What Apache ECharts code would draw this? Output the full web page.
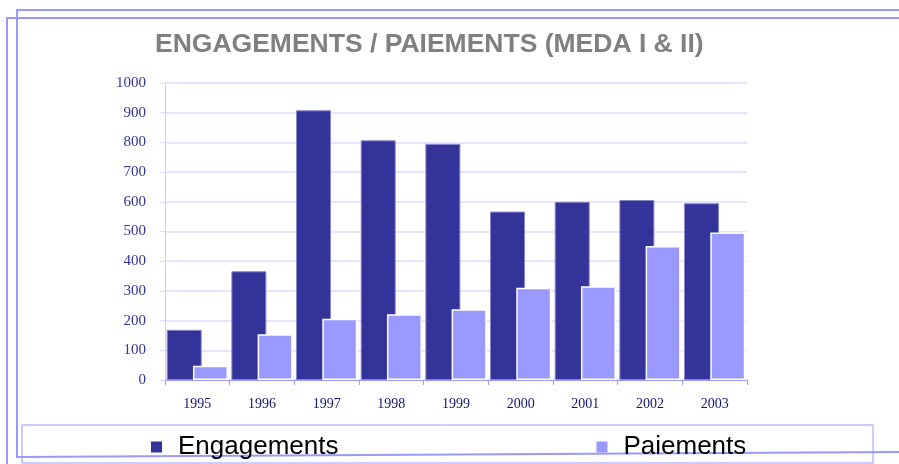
<!DOCTYPE html>
<html>
<head>
<meta charset="utf-8">
<script src="https://cdn.jsdelivr.net/npm/echarts@6/dist/echarts.min.js"></script>
<style>
  html, body { margin: 0; padding: 0; background: #fff; }
  #chart { width: 899px; height: 464px; }
</style>
</head>
<body>
<div id="chart"></div>
<script>
  // données
  const years = ['1995', '1996', '1997', '1998', '1999', '2000', '2001', '2002', '2003'];
  const engagements = [169, 366, 908, 807, 795, 567, 600, 606, 595];
  const paiements = [48, 154, 206, 221, 238, 311, 316, 451, 497];

  const frame = '#9999ff';
  let chart = echarts.init(document.getElementById('chart'));

  chart.setOption({
    animation: false,
    title: {
      text: 'ENGAGEMENTS / PAIEMENTS (MEDA I & II)',
      left: 155,
      top: 31,
      padding: 0,
      textStyle: {
        fontFamily: 'Liberation Sans',
        fontWeight: 'bold',
        fontSize: 26.5,
        color: '#808080'
      }
    },
    legend: {
      left: 151,
      top: 434,
      padding: 0,
      itemWidth: 11,
      itemHeight: 11,
      itemGap: 258,
      icon: 'rect',
      itemStyle: { borderWidth: 0 },
      textStyle: {
        fontFamily: 'Liberation Sans',
        fontSize: 26,
        color: '#000',
        padding: [0, 0, 0, 11]
      },
      data: ['Engagements', 'Paiements']
    },
    grid: {
      left: 165,
      right: 152,
      top: 83,
      bottom: 84
    },
    xAxis: {
      type: 'category',
      data: years,
      axisLine: { lineStyle: { color: frame, width: 1 } },
      axisTick: { show: true, length: 5, lineStyle: { color: frame } },
      axisLabel: {
        margin: 17,
        fontFamily: 'Liberation Serif',
        fontSize: 14,
        color: '#141478'
      }
    },
    yAxis: {
      type: 'value',
      min: 0,
      max: 1000,
      interval: 100,
      axisLine: { show: true, lineStyle: { color: '#ccccff' } },
      axisTick: { show: true, length: 5, lineStyle: { color: '#ddddff' } },
      splitLine: { lineStyle: { color: '#ddddff', width: 1.5 } },
      axisLabel: {
        margin: 19,
        fontFamily: 'Liberation Serif',
        fontSize: 15,
        color: '#333399',
        formatter: function (v) { return String(v); }
      }
    },
    series: [
      {
        name: 'Engagements',
        type: 'bar',
        data: engagements,
        barWidth: 35,
        barGap: '-25%',
        itemStyle: { color: '#333399', borderColor: '#8888cc', borderWidth: 1 }
      },
      {
        name: 'Paiements',
        type: 'bar',
        data: paiements,
        barWidth: 35,
        itemStyle: { color: '#9999ff', borderColor: '#ffffff', borderWidth: 1.5 }
      }
    ],
    graphic: [
      { type: 'polyline', shape: { points: [[899, 10], [17, 10], [17, 457], [899, 452]] }, style: { stroke: frame, lineWidth: 2, fill: null }, silent: true },
      { type: 'polyline', shape: { points: [[899, 18], [7, 18], [7, 464]] }, style: { stroke: frame, lineWidth: 2, fill: null }, silent: true },
      { type: 'rect', shape: { x: 22, y: 425, width: 851, height: 38 }, style: { stroke: frame, lineWidth: 1, fill: null }, silent: true }
    ]
  });
</script>
</body>
</html>
